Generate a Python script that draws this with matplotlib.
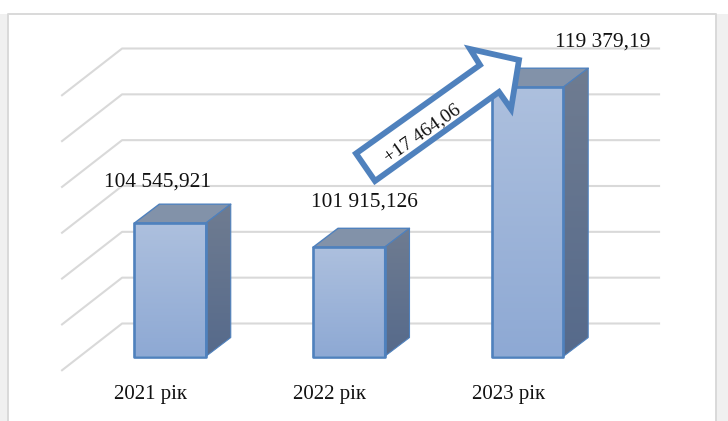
import numpy as np
import matplotlib
matplotlib.use('Agg')
import matplotlib.pyplot as plt
import matplotlib.patches as patches
from matplotlib.colors import LinearSegmentedColormap

plt.rcParams['font.family'] = ['Liberation Serif', 'DejaVu Serif']

years = ['2021 рік', '2022 рік', '2023 рік']
values = [104545.921, 101915.126, 119379.19]
value_labels = ['104 545,921', '101 915,126', '119 379,19']
grid_values = [90000, 95000, 100000, 105000, 110000, 115000, 120000]
arrow_text = '+17 464,06'

W, H = 728, 421
BLUE = '#4f81bd'
GRID = '#d9d9d9'

fig = plt.figure(figsize=(W / 100, H / 100), dpi=100)

# overlay in pixel coords for the card and the arrow
bg = fig.add_axes([0, 0, 1, 1])
bg.set_xlim(0, W)
bg.set_ylim(H, 0)
bg.axis('off')
bg.add_patch(patches.Rectangle((0, 14), 8, H, fc='#f0f0f0', ec='none'))
bg.add_patch(patches.Rectangle((716, 14), 12, H, fc='#f0f0f0', ec='none'))
bg.plot([8, 8, 716, 716], [H, 14, 14, H], color='#d9d9d9', lw=1.4)

# plot axes, one category = 178.75 px, value 90000..126000 = y 356.5..26.5
x_left = 170 - 0.5 * 178.75
x_right = 170 + 2.5 * 178.75
ax = fig.add_axes([x_left / W, 1 - 356.5 / H, (x_right - x_left) / W, 330 / H])
ax.patch.set_alpha(0)
ax.axis('off')

bar_w = 0.4
depth_x, depth_y = 25 / 178.75, 2070
wall_y = 3600
floor_y = 1500
wall_left, wall_corner, wall_right = -0.604, -0.268, 2.736

for v in grid_values:
    ax.plot([wall_left, wall_corner, wall_right], [v - floor_y, v + wall_y, v + wall_y],
            color=GRID, lw=1.5, zorder=1, clip_on=False, solid_joinstyle='round')

front_cmap = LinearSegmentedColormap.from_list('front', ['#adc0de', '#8ea9d4'])
side_cmap = LinearSegmentedColormap.from_list('side', ['#6f7c91', '#566a8b'])
grad = np.linspace(0, 1, 128).reshape(-1, 1)


def gradient_face(points, cmap, lw, z):
    poly = patches.Polygon(points, closed=True, fc='none', ec=BLUE, lw=lw, zorder=z + 1,
                           clip_on=False, joinstyle='round')
    ax.add_patch(poly)
    xs, ys = zip(*points)
    im = ax.imshow(grad, cmap=cmap, aspect='auto', zorder=z,
                   extent=[min(xs), max(xs), min(ys), max(ys)], origin='upper')
    im.set_clip_path(poly)


base = grid_values[0]
for i, v in enumerate(values):
    x0, x1 = i - bar_w / 2, i + bar_w / 2
    # top face
    ax.add_patch(patches.Polygon([(x0, v), (x1, v), (x1 + depth_x, v + depth_y), (x0 + depth_x, v + depth_y)],
                                 closed=True, fc='#8292a9', ec=BLUE, lw=1.0, zorder=2, clip_on=False,
                                 joinstyle='round'))
    gradient_face([(x1, base), (x1 + depth_x, base + depth_y), (x1 + depth_x, v + depth_y), (x1, v)],
                  side_cmap, 0.8, 2.2)
    gradient_face([(x0, base), (x1, base), (x1, v), (x0, v)], front_cmap, 1.9, 3)

ax.set_xlim(-0.5, 2.5)
ax.set_ylim(90000, 126000)

# labels sit at offsets from the bars
label_dx = [-12, 16, 75]
label_dy = [41, 45, 45]
for i, (v, s) in enumerate(zip(values, value_labels)):
    ax.annotate(s, (i, v), xytext=(label_dx[i] * 0.72, label_dy[i] * 0.72), textcoords='offset points',
                ha='center', va='center', fontsize=15.4, color='#111111', zorder=6, annotation_clip=False)
for i, s in enumerate(years):
    ax.annotate(s, (i, base), xytext=(-19 * 0.72, -38.5 * 0.72), textcoords='offset points',
                ha='center', va='center', fontsize=15, color='#111111', zorder=6, annotation_clip=False)

# arrow on top of everything
top = fig.add_axes([0, 0, 1, 1])
top.set_xlim(0, W)
top.set_ylim(H, 0)
top.axis('off')
top.patch.set_alpha(0)
arrow_x = [356, 480, 470, 519, 511, 499, 375]
arrow_y = [153.5, 65, 49, 60, 109, 92, 181]
top.add_patch(patches.Polygon(list(zip(arrow_x, arrow_y)), closed=True, fc='white', ec=BLUE, lw=4.2,
                              joinstyle='miter', zorder=5))
top.text(422, 133, arrow_text, rotation=35, rotation_mode='anchor', ha='center', va='center',
         fontsize=14, color='#111111', zorder=6)

fig.savefig('out.png', dpi=100, facecolor='white')
